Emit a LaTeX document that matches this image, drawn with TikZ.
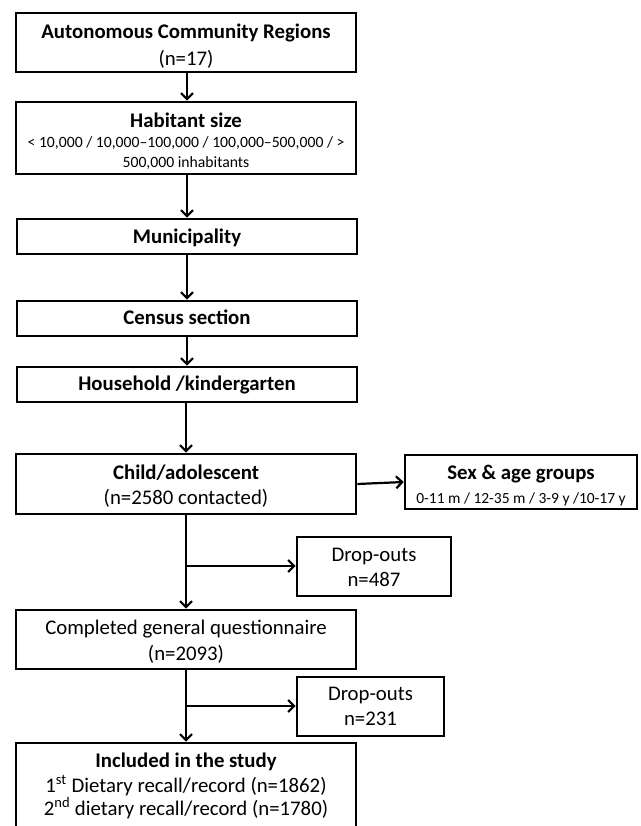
\documentclass[tikz,border=0pt]{standalone}
\usepackage{fontspec}
\setmainfont{Carlito}
\usetikzlibrary{arrows.meta}
\begin{document}
\begin{tikzpicture}[x=1pt,y=-1pt,
  box/.style={draw,line width=2.6pt,rectangle,inner sep=0pt},
  tl/.style={inner sep=0pt,text height=0.75em,text depth=0.25em,yshift=-3.5pt,font=\fontsize{20.8}{25}\selectfont},
  tb/.style={tl,font=\fontsize{20.8}{25}\selectfont\bfseries},
  ts/.style={tl,font=\fontsize{15.7}{20}\selectfont},
  conn/.style={line width=2.2pt,-{Straight Barb[length=6pt,width=12pt,line width=2.2pt]}}]
\clip (0,0) rectangle (640,826);
\fill[white] (0,0) rectangle (640,826);
% boxes
\node[box,minimum width=340pt,minimum height=59pt] (b1) at (186,42.5) {};
\node[box,minimum width=340pt,minimum height=72pt] (b2) at (186,138) {};
\node[box,minimum width=340pt,minimum height=35pt] (b3) at (187,236.5) {};
\node[box,minimum width=340pt,minimum height=35pt] (b4) at (187,318.5) {};
\node[box,minimum width=340pt,minimum height=35pt] (b5) at (187,384.5) {};
\node[box,minimum width=340pt,minimum height=60pt] (b6) at (186,484) {};
\node[box,minimum width=232pt,minimum height=54pt] (sex) at (521,482) {};
\node[box,minimum width=154pt,minimum height=59pt] (d1) at (374,566.5) {};
\node[box,minimum width=340pt,minimum height=59pt] (b7) at (186,639.5) {};
\node[box,minimum width=147pt,minimum height=59pt] (d2) at (370.5,706.5) {};
\node[box,minimum width=340pt,minimum height=92pt] (b8) at (186,789) {};
% texts
\node[tb] (b1a) at (186,33) {Autonomous Community Regions};
\node[tl] (b1b) at (186,60) {(n=17)};
\node[tb] (b2a) at (186,122) {Habitant size};
\node[ts] (b2b) at (186,142) {< 10,000 / 10,000–100,000 / 100,000–500,000 / >};
\node[ts] (b2c) at (186,162) {500,000 inhabitants};
\node[tb] (b3a) at (187,237.5) {Municipality};
\node[tb] (b4a) at (187,318.5) {Census section};
\node[tb] (b5a) at (187,384.5) {Household /kindergarten};
\node[tb] (b6a) at (186,473) {Child/adolescent};
\node[tl] (b6b) at (186,498) {(n=2580 contacted)};
\node[tb] (sexa) at (521,473) {Sex \& age groups};
\node[ts,font=\fontsize{15.5}{20}\selectfont] (sexb) at (521,497) {0-11 m / 12-35 m / 3-9 y /10-17 y};
\node[tl] (d1a) at (374,555) {Drop-outs};
\node[tl] (d1b) at (374,580) {n=487};
\node[tl] (b7a) at (186,628) {Completed general questionnaire};
\node[tl] (b7b) at (186,654) {(n=2093)};
\node[tl] (d2a) at (370.5,694) {Drop-outs};
\node[tl] (d2b) at (370.5,719) {n=231};
\node[tb] (b8a) at (186,761) {Included in the study};
\node[tl] (b8b) at (186,786) {1\textsuperscript{st} Dietary recall/record (n=1862)};
\node[tl] (b8c) at (186,809) {2\textsuperscript{nd} dietary recall/record (n=1780)};
% connectors
\coordinate (j1) at (186,566);
\coordinate (j2) at (186,706);
\draw[conn] (b1.south -| 187,0) -- (b2.north -| 187,0);
\draw[conn] (b2.south -| 187,0) -- (b3.north);
\draw[conn] (b3.south) -- (b4.north);
\draw[conn] (b4.south) -- (b5.north);
\draw[conn] (b5.south -| 186,0) -- (b6.north);
\draw[conn] (b6.east) -- (sex.west);
\draw[conn] (b6.south) -- (b7.north);
\draw[conn] (j1) -- (d1.west |- j1);
\draw[conn] (b7.south) -- (b8.north);
\draw[conn] (j2) -- (d2.west |- j2);
\end{tikzpicture}
\end{document}
